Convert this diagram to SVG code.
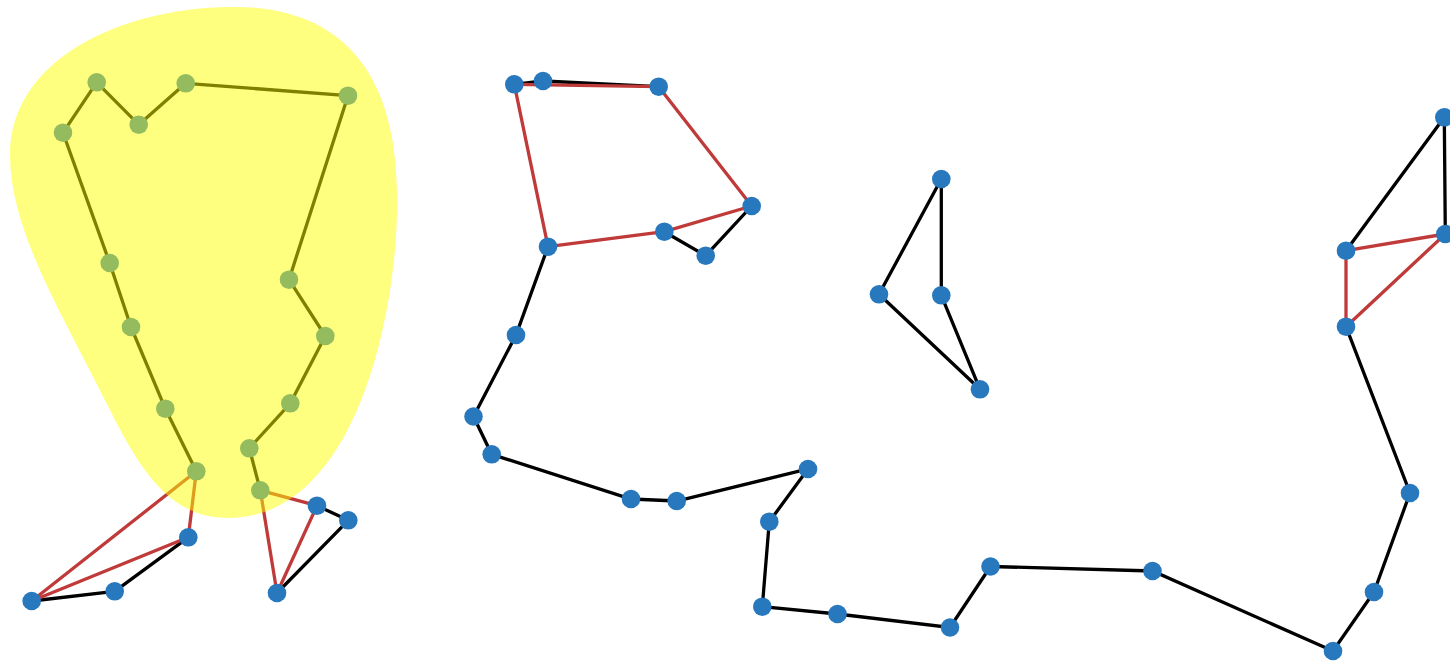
<svg xmlns="http://www.w3.org/2000/svg" width="1450" height="661" viewBox="0 0 1450 661">
<style>
.e{stroke:#000;stroke-width:3.3;fill:none;stroke-linecap:round}
.r{stroke:#c03a3a;stroke-width:3.3;fill:none;stroke-linecap:round}
.n{fill:#2878be}
.blob{fill:#ffff00;fill-opacity:0.5}
</style>
<rect width="1450" height="661" fill="#fff"/>
<g id="connectors">
<g class="e">
<line x1="63" y1="132.7" x2="96.7" y2="82.3"/>
<line x1="96.7" y1="82.3" x2="138.7" y2="124.7"/>
<line x1="138.7" y1="124.7" x2="185.7" y2="83.3"/>
<line x1="185.7" y1="83.3" x2="348" y2="95.7"/>
<line x1="63" y1="132.7" x2="109.7" y2="263"/>
<line x1="109.7" y1="263" x2="131" y2="327"/>
<line x1="131" y1="327" x2="165.3" y2="408.7"/>
<line x1="165.3" y1="408.7" x2="196.3" y2="471.3"/>
<line x1="348" y1="95.7" x2="289" y2="279.7"/>
<line x1="289" y1="279.7" x2="325.3" y2="336"/>
<line x1="325.3" y1="336" x2="290.3" y2="403.3"/>
<line x1="290.3" y1="403.3" x2="249.3" y2="448.3"/>
<line x1="249.3" y1="448.3" x2="260.3" y2="490.3"/>
<line x1="31.7" y1="601" x2="114.7" y2="591.3"/>
<line x1="114.7" y1="591.3" x2="188.3" y2="537.3"/>
<line x1="317" y1="505.7" x2="348.3" y2="520.3"/>
<line x1="348.3" y1="520.3" x2="277" y2="593"/>
<line x1="514.3" y1="84.3" x2="543" y2="81"/>
<line x1="543" y1="81" x2="658.7" y2="86.7"/>
<line x1="664.3" y1="231.7" x2="705.7" y2="255.7"/>
<line x1="705.7" y1="255.7" x2="751.7" y2="206"/>
<polyline points="548,246.7 516,335 473.5,416.5 491.7,454.3 631,499 676.7,501 808,469 769.3,521.7 762.3,606.7 837.5,614 950,627.5 990.5,566.5 1152.5,571 1333,651 1374,592 1410,493 1346,326.7"/>
<line x1="1444.3" y1="117.3" x2="1346" y2="250.7"/>
<line x1="1444.3" y1="117.3" x2="1445.3" y2="234"/>
<line x1="941.3" y1="179" x2="879" y2="294.3"/>
<line x1="941.3" y1="179" x2="941.3" y2="295.3"/>
<line x1="879" y1="294.3" x2="980" y2="389.3"/>
<line x1="941.3" y1="295.3" x2="980" y2="389.3"/>
</g>
<g class="r">
<line x1="196.3" y1="471.3" x2="31.7" y2="601"/>
<line x1="196.3" y1="471.3" x2="188.3" y2="537.3"/>
<line x1="188.3" y1="537.3" x2="31.7" y2="601"/>
<line x1="260.3" y1="490.3" x2="317" y2="505.7"/>
<line x1="260.3" y1="490.3" x2="277" y2="593"/>
<line x1="317" y1="505.7" x2="277" y2="593"/>
<line x1="514.3" y1="84.3" x2="658.7" y2="86.7"/>
<line x1="658.7" y1="86.7" x2="751.7" y2="206"/>
<line x1="751.7" y1="206" x2="664.3" y2="231.7"/>
<line x1="664.3" y1="231.7" x2="548" y2="246.7"/>
<line x1="548" y1="246.7" x2="514.3" y2="84.3"/>
<line x1="1346" y1="250.7" x2="1445.3" y2="234"/>
<line x1="1346" y1="250.7" x2="1346" y2="326.7"/>
<line x1="1346" y1="326.7" x2="1445.3" y2="234"/>
</g>
</g>
<g id="nodes" class="n">
<circle id="a1" cx="96.7" cy="82.3" r="9.3"/>
<circle id="a2" cx="138.7" cy="124.7" r="9.3"/>
<circle id="a3" cx="185.7" cy="83.3" r="9.3"/>
<circle id="a4" cx="348" cy="95.7" r="9.3"/>
<circle id="a5" cx="63" cy="132.7" r="9.3"/>
<circle id="a6" cx="109.7" cy="263" r="9.3"/>
<circle id="a7" cx="131" cy="327" r="9.3"/>
<circle id="a8" cx="165.3" cy="408.7" r="9.3"/>
<circle id="a9" cx="196.3" cy="471.3" r="9.3"/>
<circle id="a10" cx="289" cy="279.7" r="9.3"/>
<circle id="a11" cx="325.3" cy="336" r="9.3"/>
<circle id="a12" cx="290.3" cy="403.3" r="9.3"/>
<circle id="a13" cx="249.3" cy="448.3" r="9.3"/>
<circle id="a14" cx="260.3" cy="490.3" r="9.3"/>
<circle id="b1" cx="188.3" cy="537.3" r="9.3"/>
<circle id="b2" cx="114.7" cy="591.3" r="9.3"/>
<circle id="b3" cx="31.7" cy="601" r="9.3"/>
<circle id="b4" cx="317" cy="505.7" r="9.3"/>
<circle id="b5" cx="348.3" cy="520.3" r="9.3"/>
<circle id="b6" cx="277" cy="593" r="9.3"/>
<circle id="c1" cx="514.3" cy="84.3" r="9.3"/>
<circle id="c2" cx="543" cy="81" r="9.3"/>
<circle id="c3" cx="658.7" cy="86.7" r="9.3"/>
<circle id="c4" cx="751.7" cy="206" r="9.3"/>
<circle id="c5" cx="664.3" cy="231.7" r="9.3"/>
<circle id="c6" cx="705.7" cy="255.7" r="9.3"/>
<circle id="c7" cx="548" cy="246.7" r="9.3"/>
<circle id="c8" cx="516" cy="335" r="9.3"/>
<circle id="c9" cx="473.5" cy="416.5" r="9.3"/>
<circle id="c10" cx="491.7" cy="454.3" r="9.3"/>
<circle id="c11" cx="631" cy="499" r="9.3"/>
<circle id="c12" cx="676.7" cy="501" r="9.3"/>
<circle id="c13" cx="808" cy="469" r="9.3"/>
<circle id="c14" cx="769.3" cy="521.7" r="9.3"/>
<circle id="c15" cx="762.3" cy="606.7" r="9.3"/>
<circle id="c16" cx="837.5" cy="614" r="9.3"/>
<circle id="c17" cx="950" cy="627.5" r="9.3"/>
<circle id="c18" cx="990.5" cy="566.5" r="9.3"/>
<circle id="c19" cx="1152.5" cy="571" r="9.3"/>
<circle id="c20" cx="1333" cy="651" r="9.3"/>
<circle id="c21" cx="1374" cy="592" r="9.3"/>
<circle id="c22" cx="1410" cy="493" r="9.3"/>
<circle id="c23" cx="1346" cy="326.7" r="9.3"/>
<circle id="c24" cx="1346" cy="250.7" r="9.3"/>
<circle id="c25" cx="1445.3" cy="234" r="9.3"/>
<circle id="c26" cx="1444.3" cy="117.3" r="9.3"/>
<circle id="d1" cx="941.3" cy="179" r="9.3"/>
<circle id="d2" cx="879" cy="294.3" r="9.3"/>
<circle id="d3" cx="941.3" cy="295.3" r="9.3"/>
<circle id="d4" cx="980" cy="389.3" r="9.3"/>
</g>
<path id="highlight" class="blob" d="M230,7 C330,5 395,60 397,190 C400,300 360,518 228,518 C170,518 140,470 110,410 C60,310 10,230 10,155 C10,60 120,8 230,7 Z"/>
</svg>
